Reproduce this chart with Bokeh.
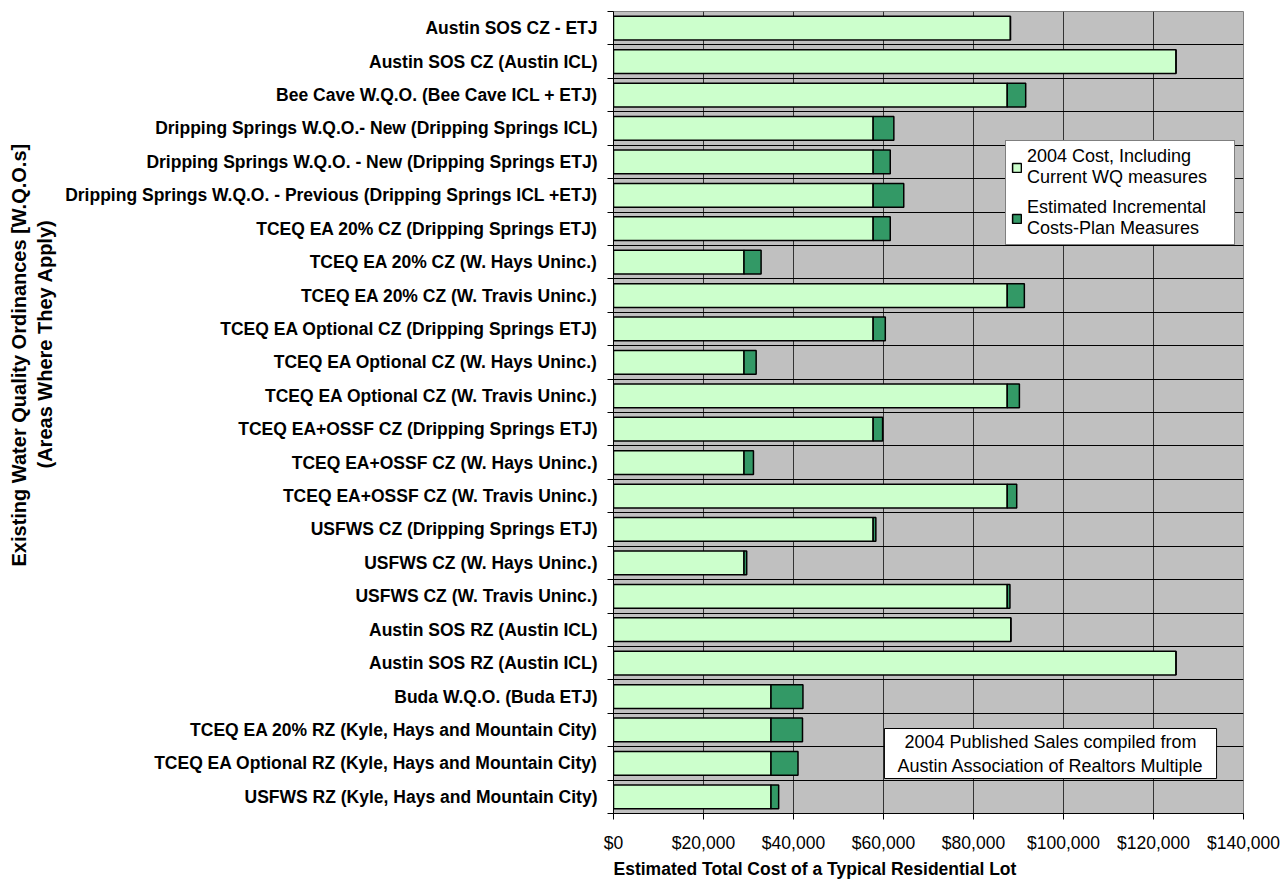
from bokeh.plotting import figure
from bokeh.models import (ColumnDataSource, FixedTicker, NumeralTickFormatter, Legend,
                          LegendItem, Label, Title, Range1d)
from bokeh.embed import file_html
from bokeh.resources import INLINE

# ---- data (top to bottom as in the reference) ----
categories = [
    "Austin SOS CZ - ETJ",
    "Austin SOS CZ (Austin ICL)",
    "Bee Cave W.Q.O. (Bee Cave ICL + ETJ)",
    "Dripping Springs W.Q.O.- New (Dripping Springs ICL)",
    "Dripping Springs W.Q.O. - New (Dripping Springs ETJ)",
    "Dripping Springs W.Q.O. - Previous (Dripping Springs ICL +ETJ)",
    "TCEQ EA 20% CZ (Dripping Springs ETJ)",
    "TCEQ EA 20% CZ (W. Hays Uninc.)",
    "TCEQ EA 20% CZ (W. Travis Uninc.)",
    "TCEQ EA Optional CZ (Dripping Springs ETJ)",
    "TCEQ EA Optional CZ (W. Hays Uninc.)",
    "TCEQ EA Optional CZ (W. Travis Uninc.)",
    "TCEQ EA+OSSF CZ (Dripping Springs ETJ)",
    "TCEQ EA+OSSF CZ (W. Hays Uninc.)",
    "TCEQ EA+OSSF CZ (W. Travis Uninc.)",
    "USFWS CZ (Dripping Springs ETJ)",
    "USFWS CZ (W. Hays Uninc.)",
    "USFWS CZ (W. Travis Uninc.)",
    "Austin SOS RZ (Austin ICL)",
    "Austin SOS RZ (Austin ICL)",
    "Buda W.Q.O. (Buda ETJ)",
    "TCEQ EA 20% RZ (Kyle, Hays and Mountain City)",
    "TCEQ EA Optional RZ (Kyle, Hays and Mountain City)",
    "USFWS RZ (Kyle, Hays and Mountain City)",
]
cost_2004 = [88200, 125000, 87500, 57700, 57700, 57700, 57700, 29000, 87500,
             57700, 29000, 87500, 57700, 29000, 87500, 57700, 29000, 87500,
             88300, 125000, 35000, 35000, 35000, 35000]
incremental = [0, 0, 4100, 4600, 3800, 6800, 3800, 3800, 3800,
               2700, 2700, 2700, 2100, 2100, 2100, 600, 600, 600,
               0, 0, 7100, 7000, 6000, 1700]
x_ticks = [0, 20000, 40000, 60000, 80000, 100000, 120000, 140000]

legend_labels = ["2004 Cost, Including\nCurrent WQ measures",
                 "Estimated Incremental\nCosts-Plan Measures"]
note_text = "2004 Published Sales compiled from\nAustin Association of Realtors Multiple"
x_title = "Estimated Total Cost of a Typical Residential Lot"
y_title1 = "Existing Water Quality Ordinances [W.Q.O.s]"
y_title2 = "(Areas Where They Apply)"

n = len(categories)
ypos = [n - i for i in range(n)]
totals = [a + b for a, b in zip(cost_2004, incremental)]
boundaries = [k + 0.5 for k in range(n + 1)]

src = ColumnDataSource(dict(y=ypos, light=cost_2004, total=totals, cat=categories))

FONT = "Liberation Sans"

p = figure(frame_width=630, frame_height=802,
           x_range=Range1d(0, 140000), y_range=Range1d(0.5, n + 0.5),
           min_border_left=613, min_border_top=11, min_border_right=40,
           min_border_bottom=55,
           output_backend="svg", toolbar_location=None)

p.background_fill_color = "#C0C0C0"
p.border_fill_color = "white"
p.outline_line_color = "#808080"
p.outline_line_width = 1

r1 = p.hbar(y="y", left=0, right="light", height=0.71, source=src,
            fill_color="#CCFFCC", line_color="black", line_width=1.5)
r2 = p.hbar(y="y", left="light", right="total", height=0.71, source=src,
            fill_color="#339966", line_color="black", line_width=1.5)

# x axis
p.xaxis.ticker = FixedTicker(ticks=x_ticks)
p.xaxis.formatter = NumeralTickFormatter(format="$0,0")
p.xaxis.major_label_text_font = FONT
p.xaxis.major_label_text_font_size = "17.5px"
p.xaxis.major_label_text_color = "black"
p.xaxis.major_tick_out = 6
p.xaxis.major_tick_in = 0
p.xaxis.minor_tick_out = 0
p.xaxis.minor_tick_in = 0
p.xaxis.axis_line_color = "black"
p.xaxis.major_tick_line_color = "black"
p.xaxis.major_label_standoff = 13

# y axis
p.yaxis.ticker = FixedTicker(ticks=ypos, minor_ticks=boundaries)
p.yaxis.major_label_overrides = {y: c for y, c in zip(ypos, categories)}
p.yaxis.major_label_text_font = FONT
p.yaxis.major_label_text_font_size = "17.5px"
p.yaxis.major_label_text_font_style = "bold"
p.yaxis.major_label_text_color = "black"
p.yaxis.major_tick_out = 0
p.yaxis.major_tick_in = 0
p.yaxis.minor_tick_out = 6
p.yaxis.minor_tick_in = 0
p.yaxis.minor_tick_line_color = "black"
p.yaxis.axis_line_color = "black"
p.yaxis.major_label_standoff = 10

# grids
p.xgrid.grid_line_color = "#333333"
p.xgrid.grid_line_width = 1
p.ygrid.ticker = FixedTicker(ticks=boundaries)
p.ygrid.grid_line_color = "black"
p.ygrid.grid_line_width = 1

# axis titles
tx = Title(text=x_title, align="left", offset=0, text_font=FONT,
           text_font_size="17.5px", text_font_style="bold", text_color="black",
           standoff=2)
p.add_layout(tx, "below")
ty2 = Title(text=y_title2, align="left", offset=345, text_font=FONT,
            text_font_size="20px", text_font_style="bold", text_color="black",
            standoff=14)
p.add_layout(ty2, "left")
ty1 = Title(text=y_title1, align="left", offset=247, text_font=FONT,
            text_font_size="20px", text_font_style="bold", text_color="black",
            standoff=-10)
p.add_layout(ty1, "left")

# legend
legend = Legend(items=[LegendItem(label=legend_labels[0], renderers=[r1]),
                       LegendItem(label=legend_labels[1], renderers=[r2])],
                location=(392, 568), orientation="vertical",
                label_text_font=FONT, label_text_font_size="18px",
                label_text_color="black", label_text_line_height=1.2,
                glyph_width=11, glyph_height=11, label_standoff=5,
                label_width=202,
                spacing=9, padding=5, margin=0,
                border_line_color="black", border_line_width=1,
                background_fill_color="white", background_fill_alpha=1)
p.add_layout(legend, "center")

# note box
note = Label(x=437, y=60, x_units="screen", y_units="screen", text=note_text,
             text_align="center", text_baseline="middle", text_font=FONT,
             text_font_size="18px", text_color="black",
             background_fill_color="white", border_line_color="black",
             border_line_width=1, padding=(13, 3))
p.add_layout(note)

open("out.html", "w").write(file_html(p, INLINE))
